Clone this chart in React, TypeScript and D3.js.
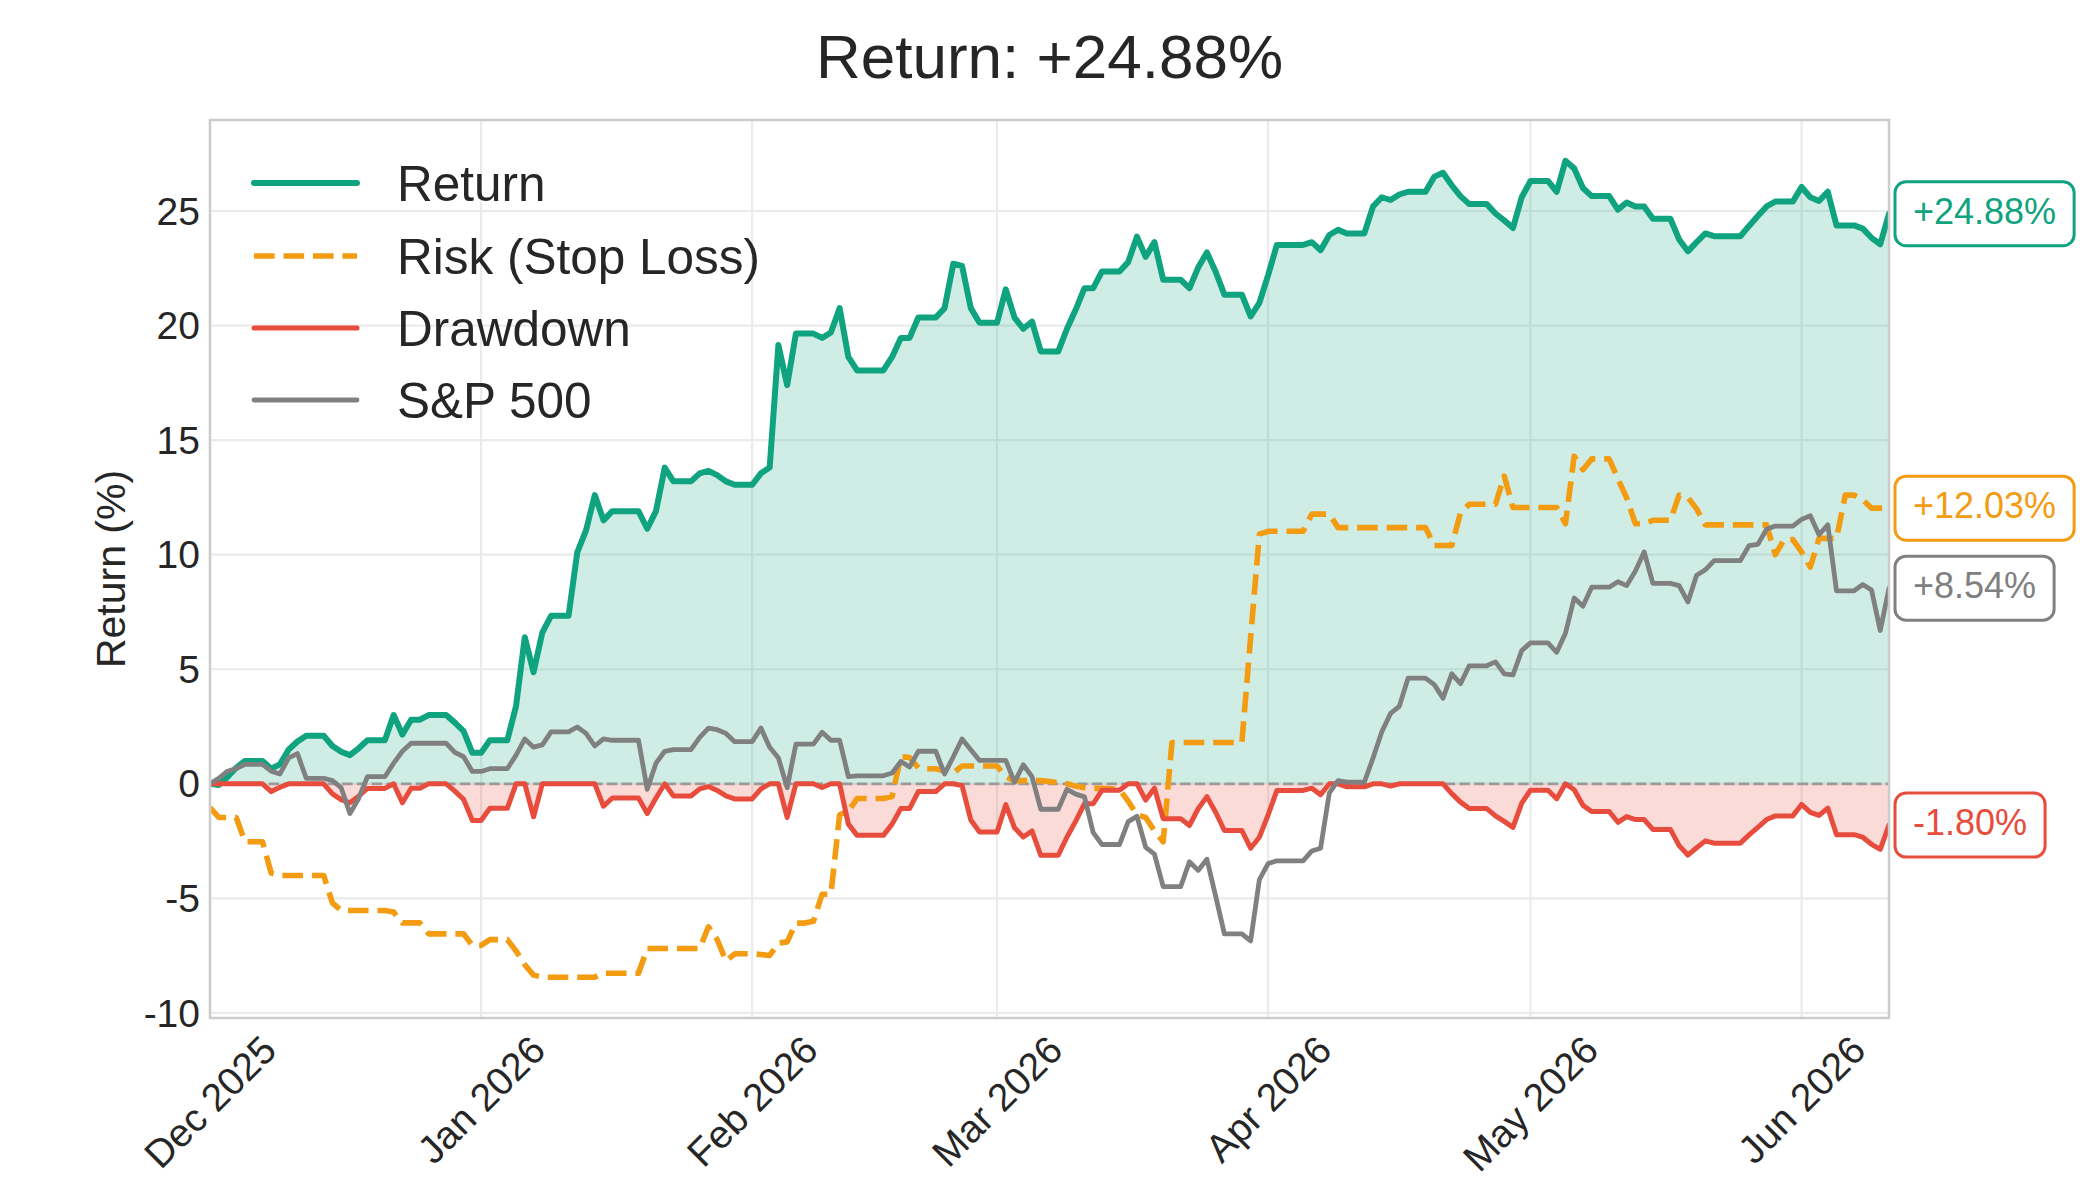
import React, { useEffect, useRef } from 'react';
import * as d3 from 'd3';

// Calendar days from 1 Dec 2025 to 11 Jun 2026 (weekends/holidays carry the previous close)
const START_DATE = new Date(2025, 11, 1);
const END_DATE = new Date(2026, 5, 11);

// Rows are weeks (Mon..Sun)
const returnPct: number[] = [
  0, -0.05, 0.3, 0.7, 1.0, 1.0, 1.0,
  0.66, 0.85, 1.5, 1.85, 2.1, 2.1, 2.1,
  1.65, 1.4, 1.25, 1.55, 1.9, 1.9, 1.9,
  3.0, 2.15, 2.8, 2.8, 3.0, 3.0, 3.0,
  2.67, 2.3, 1.35, 1.35, 1.9, 1.9, 1.9,
  3.4, 6.4, 4.87, 6.6, 7.33, 7.33, 7.33,
  10.1, 11.06, 12.6, 11.5, 11.9, 11.9, 11.9,
  11.9, 11.13, 11.9, 13.8, 13.2, 13.2, 13.2,
  13.55, 13.66, 13.47, 13.2, 13.05, 13.05, 13.05,
  13.55, 13.8, 19.15, 17.4, 19.65, 19.65, 19.65,
  19.46, 19.7, 20.76, 18.63, 18.04, 18.04, 18.04,
  18.04, 18.63, 19.46, 19.46, 20.35, 20.35, 20.35,
  20.76, 22.7, 22.6, 20.76, 20.12, 20.12, 20.12,
  21.58, 20.35, 19.86, 20.17, 18.87, 18.87, 18.87,
  19.86, 20.7, 21.63, 21.63, 22.36, 22.36, 22.36,
  22.77, 23.88, 23.0, 23.64, 22.0, 22.0, 22.0,
  21.63, 22.53, 23.19, 22.35, 21.35, 21.35, 21.35,
  20.4, 20.99, 22.2, 23.52, 23.52, 23.52, 23.52,
  23.64, 23.29, 23.95, 24.18, 24.02, 24.02, 24.02,
  25.2, 25.6, 25.48, 25.72, 25.84, 25.84, 25.84,
  26.5, 26.67, 26.12, 25.65, 25.3, 25.3, 25.3,
  24.89, 24.59, 24.26, 25.6, 26.31, 26.31, 26.31,
  25.84, 27.19, 26.86, 26.0, 25.65, 25.65, 25.65,
  25.06, 25.37, 25.2, 25.2, 24.66, 24.66, 24.66,
  23.76, 23.24, 23.64, 24.02, 23.9, 23.9, 23.9,
  23.9, 24.35, 24.78, 25.2, 25.41, 25.41, 25.41,
  26.05, 25.6, 25.44, 25.84, 24.37, 24.37, 24.37,
  24.23, 23.83, 23.55, 24.88,
];

const riskPct: number[] = [
  -1.04, -1.47, -1.47, -1.47, -2.53, -2.53, -2.53,
  -3.9, -4.0, -4.0, -4.0, -4.0, -4.0, -4.0,
  -5.2, -5.53, -5.53, -5.53, -5.53, -5.53, -5.53,
  -5.6, -6.07, -6.07, -6.07, -6.55, -6.55, -6.55,
  -6.55, -6.55, -7.05, -7.05, -6.8, -6.8, -6.8,
  -7.3, -7.9, -8.35, -8.44, -8.44, -8.44, -8.44,
  -8.44, -8.44, -8.44, -8.27, -8.27, -8.27, -8.27,
  -8.27, -7.19, -7.19, -7.19, -7.19, -7.19, -7.19,
  -7.19, -6.24, -6.8, -7.73, -7.42, -7.42, -7.42,
  -7.45, -7.49, -6.95, -6.9, -6.08, -6.08, -6.0,
  -4.82, -4.82, -1.35, -1.2, -0.64, -0.64, -0.64,
  -0.64, -0.55, 1.18, 1.15, 0.7, 0.66, 0.66,
  0.55, 0.47, 0.78, 0.78, 0.78, 0.78, 0.78,
  0.3, 0.14, 0.14, 0.14, 0.14, 0.1, 0.05,
  0.0, -0.1, -0.17, -0.2, -0.2, -0.22, -0.24,
  -0.76, -1.35, -1.47, -2.06, -2.53, 1.8, 1.8,
  1.8, 1.8, 1.8, 1.8, 1.8, 1.8, 1.8,
  6.4, 10.9, 11.02, 11.02, 11.02, 11.02, 11.02,
  11.77, 11.77, 11.77, 11.18, 11.18, 11.18, 11.18,
  11.18, 11.18, 11.18, 11.18, 11.18, 11.18, 11.18,
  10.4, 10.4, 10.4, 11.82, 12.2, 12.2, 12.2,
  12.2, 13.43, 12.06, 12.06, 12.06, 12.06, 12.06,
  12.06, 11.35, 14.3, 13.71, 14.18, 14.18, 14.18,
  13.31, 12.48, 11.35, 11.35, 11.5, 11.5, 11.5,
  12.6, 12.5, 12.0, 11.3, 11.3, 11.3, 11.3,
  11.3, 11.3, 11.3, 11.3, 10.0, 10.66, 10.66,
  10.12, 9.46, 10.71, 10.71, 10.71, 12.6, 12.6,
  12.4, 12.03, 12.03, 12.03,
];

const drawdownPct: number[] = [
  0, 0, 0, 0, 0, 0, 0,
  -0.34, -0.15, 0, 0, 0, 0, 0,
  -0.44, -0.69, -0.83, -0.54, -0.2, -0.2, -0.2,
  0, -0.83, -0.19, -0.19, 0, 0, 0,
  -0.32, -0.68, -1.6, -1.6, -1.07, -1.07, -1.07,
  0, 0, -1.44, 0, 0, 0, 0,
  0, 0, 0, -0.98, -0.62, -0.62, -0.62,
  -0.62, -1.3, -0.62, 0, -0.53, -0.53, -0.53,
  -0.22, -0.12, -0.29, -0.53, -0.66, -0.66, -0.66,
  -0.22, 0, 0, -1.47, 0, 0, 0,
  -0.16, 0, 0, -1.76, -2.25, -2.25, -2.25,
  -2.25, -1.76, -1.08, -1.08, -0.34, -0.34, -0.34,
  0, 0, -0.08, -1.58, -2.1, -2.1, -2.1,
  -0.91, -1.92, -2.32, -2.06, -3.12, -3.12, -3.12,
  -2.32, -1.63, -0.87, -0.87, -0.28, -0.28, -0.28,
  0, 0, -0.71, -0.19, -1.52, -1.52, -1.52,
  -1.82, -1.09, -0.56, -1.24, -2.04, -2.04, -2.04,
  -2.81, -2.33, -1.36, -0.29, -0.29, -0.29, -0.29,
  -0.19, -0.48, 0, 0, -0.13, -0.13, -0.13,
  0, 0, -0.1, 0, 0, 0, 0,
  0, 0, -0.43, -0.8, -1.08, -1.08, -1.08,
  -1.4, -1.64, -1.9, -0.84, -0.28, -0.28, -0.28,
  -0.65, 0, -0.26, -0.94, -1.21, -1.21, -1.21,
  -1.68, -1.43, -1.56, -1.56, -1.99, -1.99, -1.99,
  -2.7, -3.11, -2.79, -2.49, -2.59, -2.59, -2.59,
  -2.59, -2.23, -1.9, -1.56, -1.4, -1.4, -1.4,
  -0.9, -1.25, -1.38, -1.06, -2.22, -2.22, -2.22,
  -2.33, -2.64, -2.86, -1.8,
];

const spxPct: number[] = [
  0, 0.24, 0.55, 0.66, 0.85, 0.85, 0.85,
  0.55, 0.43, 1.13, 1.32, 0.24, 0.24, 0.24,
  0.14, -0.17, -1.3, -0.64, 0.31, 0.31, 0.31,
  0.9, 1.42, 1.77, 1.77, 1.77, 1.77, 1.77,
  1.37, 1.18, 0.54, 0.54, 0.66, 0.66, 0.66,
  1.25, 1.96, 1.6, 1.7, 2.27, 2.27, 2.27,
  2.48, 2.2, 1.65, 1.96, 1.9, 1.9, 1.9,
  1.9, -0.24, 0.9, 1.42, 1.49, 1.49, 1.49,
  2.03, 2.43, 2.36, 2.2, 1.84, 1.84, 1.84,
  2.43, 1.6, 1.13, -0.17, 1.73, 1.73, 1.73,
  2.25, 1.9, 1.9, 0.31, 0.35, 0.35, 0.35,
  0.35, 0.47, 0.97, 0.73, 1.42, 1.42, 1.42,
  0.43, 1.18, 1.96, 1.49, 1.02, 1.02, 1.02,
  1.02, 0.07, 0.83, 0.31, -1.11, -1.11, -1.11,
  -0.24, -0.45, -0.57, -2.13, -2.65, -2.65, -2.65,
  -1.65, -1.42, -2.77, -3.07, -4.49, -4.49, -4.49,
  -3.4, -3.78, -3.29, -4.9, -6.55, -6.55, -6.55,
  -6.86, -4.18, -3.48, -3.36, -3.36, -3.36, -3.36,
  -2.93, -2.81, -0.4, 0.14, 0.07, 0.07, 0.07,
  1.13, 2.27, 3.07, 3.38, 4.61, 4.61, 4.61,
  4.33, 3.74, 4.8, 4.37, 5.15, 5.15, 5.15,
  5.32, 4.8, 4.75, 5.82, 6.15, 6.15, 6.15,
  5.74, 6.57, 8.11, 7.75, 8.58, 8.58, 8.58,
  8.82, 8.65, 9.29, 10.12, 8.75, 8.75, 8.75,
  8.65, 7.94, 9.1, 9.34, 9.74, 9.74, 9.74,
  9.74, 10.4, 10.45, 11.11, 11.25, 11.25, 11.25,
  11.54, 11.7, 10.87, 11.3, 8.42, 8.42, 8.42,
  8.7, 8.46, 6.69, 8.54,
];

const yTickValues = [-10, -5, 0, 5, 10, 15, 20, 25];
const seriesNames = ['Return', 'Risk (Stop Loss)', 'Drawdown', 'S&P 500'];
const seriesColors = ['#10a37f', '#f39c12', '#e74c3c', '#808080'];
const titlePrefix = 'Return: ';
const yAxisTitle = 'Return (%)';

const FONT = "'Liberation Sans', Arial, Helvetica, sans-serif";
const TEXT = '#262626';

export default function App() {
  const ref = useRef<SVGSVGElement>(null);

  useEffect(() => {
    document.body.style.margin = '0';
    const svg = d3.select(ref.current as SVGSVGElement);
    svg.selectAll('*').remove();

    const L = 210, R = 1889, T = 120, B = 1018;
    const dates = d3.timeDay.range(START_DATE, d3.timeDay.offset(END_DATE, 1));
    const x = d3.scaleTime().domain([START_DATE, END_DATE]).range([L, R]);
    const all = [...returnPct, ...riskPct, ...drawdownPct, ...spxPct];
    const lo = d3.min(all) as number;
    const hi = d3.max(all) as number;
    const pad = (hi - lo) * 0.05;
    const y = d3.scaleLinear().domain([lo - pad, hi + pad]).range([B, T]);

    const series = [
      { name: seriesNames[0], values: returnPct, color: seriesColors[0], width: 6, dash: null as string | null },
      { name: seriesNames[1], values: riskPct, color: seriesColors[1], width: 5.6, dash: '20.6,8.9' },
      { name: seriesNames[2], values: drawdownPct, color: seriesColors[2], width: 5, dash: null },
      { name: seriesNames[3], values: spxPct, color: seriesColors[3], width: 4.8, dash: null },
    ];

    svg.append('rect').attr('x', 0).attr('y', 0).attr('width', 2100).attr('height', 1200).attr('fill', '#ffffff');

    // grid
    const grid = svg.append('g');
    yTickValues.forEach((v) => {
      grid.append('line').attr('x1', L).attr('x2', R).attr('y1', y(v)).attr('y2', y(v))
        .attr('stroke', '#ebebeb').attr('stroke-width', 2.2);
    });
    const months = d3.timeMonth.range(START_DATE, d3.timeDay.offset(END_DATE, 1));
    months.forEach((m) => {
      grid.append('line').attr('x1', x(m)).attr('x2', x(m)).attr('y1', T).attr('y2', B)
        .attr('stroke', '#ebebeb').attr('stroke-width', 2.2);
    });

    const clip = svg.append('defs').append('clipPath').attr('id', 'plotclip');
    clip.append('rect').attr('x', L).attr('y', T).attr('width', R - L).attr('height', B - T);
    const plot = svg.append('g').attr('clip-path', 'url(#plotclip)');

    const area = (vals: number[]) =>
      d3.area<number>().x((_, i) => x(dates[i])).y0(y(0)).y1((d) => y(d))(vals) as string;

    plot.append('path').attr('d', area(returnPct)).attr('fill', seriesColors[0]).attr('fill-opacity', 0.2);
    plot.append('path').attr('d', area(drawdownPct)).attr('fill', seriesColors[2]).attr('fill-opacity', 0.2);

    // zero line
    plot.append('line').attr('x1', L).attr('x2', R).attr('y1', y(0)).attr('y2', y(0))
      .attr('stroke', '#808080').attr('stroke-opacity', 0.7).attr('stroke-width', 2.8)
      .attr('stroke-dasharray', '10.3,4.4');

    const line = d3.line<number>().x((_, i) => x(dates[i])).y((d) => y(d));
    series.forEach((s) => {
      const p = plot.append('path').attr('d', line(s.values) as string).attr('fill', 'none')
        .attr('stroke', s.color).attr('stroke-width', s.width)
        .attr('stroke-linejoin', 'round').attr('stroke-linecap', s.dash ? 'butt' : 'round');
      if (s.dash) p.attr('stroke-dasharray', s.dash);
    });

    // spines
    svg.append('rect').attr('x', L).attr('y', T).attr('width', R - L).attr('height', B - T)
      .attr('fill', 'none').attr('stroke', '#cccccc').attr('stroke-width', 2.5);

    // y ticks
    yTickValues.forEach((v) => {
      svg.append('text').attr('x', 200).attr('y', y(v)).attr('dy', '0.35em')
        .attr('text-anchor', 'end').attr('font-family', FONT).attr('font-size', 39).attr('fill', TEXT)
        .text(String(v));
    });

    // x ticks (rotated 45°, centered, top aligned)
    const fmt = d3.timeFormat('%b %Y');
    months.forEach((m) => {
      const t = svg.append('text').attr('font-family', FONT).attr('font-size', 39).attr('fill', TEXT)
        .attr('text-anchor', 'middle').attr('dy', '0.35em').text(fmt(m));
      const w = (t.node() as SVGTextElement).getComputedTextLength();
      const h = 39 * 1.15;
      const cy = 1027 + ((w + h) * Math.SQRT1_2) / 2;
      t.attr('transform', `translate(${x(m)},${cy}) rotate(-45)`);
    });

    // y axis title
    svg.append('text').attr('transform', `translate(111,${(T + B) / 2}) rotate(-90)`)
      .attr('dy', '0.35em').attr('text-anchor', 'middle').attr('font-family', FONT)
      .attr('font-size', 41).attr('fill', TEXT).text(yAxisTitle);

    // title
    const lastRet = returnPct[returnPct.length - 1];
    const fmtPct = (v: number) => `${v >= 0 ? '+' : ''}${v.toFixed(2)}%`;
    svg.append('text').attr('x', (L + R) / 2).attr('y', 78).attr('text-anchor', 'middle')
      .attr('font-family', FONT).attr('font-size', 62).attr('fill', TEXT)
      .text(titlePrefix + fmtPct(lastRet));

    // legend
    const legendRows = [183, 256, 328, 400];
    series.forEach((s, i) => {
      const ly = legendRows[i];
      const ln = svg.append('line').attr('x1', 254).attr('x2', 357).attr('y1', ly).attr('y2', ly)
        .attr('stroke', s.color).attr('stroke-width', s.width)
        .attr('stroke-linecap', s.dash ? 'butt' : 'round');
      if (s.dash) ln.attr('stroke-dasharray', s.dash);
      svg.append('text').attr('x', 397).attr('y', ly).attr('dy', '0.36em')
        .attr('font-family', FONT).attr('font-size', 49.5).attr('fill', TEXT).text(s.name);
    });

    // end labels
    series.forEach((s) => {
      const v = s.values[s.values.length - 1];
      const yc = y(v);
      const g = svg.append('g');
      const rect = g.append('rect');
      const t = g.append('text').attr('x', 1895 + 18).attr('y', yc + 10)
        .attr('font-family', FONT).attr('font-size', 36).attr('fill', s.color).text(fmtPct(v));
      const w = (t.node() as SVGTextElement).getComputedTextLength();
      rect.attr('x', 1895).attr('y', yc - 32).attr('width', w + 36).attr('height', 64)
        .attr('rx', 11).attr('ry', 11).attr('fill', '#ffffff')
        .attr('stroke', s.color).attr('stroke-width', 3);
    });
  }, []);

  return <svg ref={ref} width={2100} height={1200} style={{ display: 'block' }} />;
}
